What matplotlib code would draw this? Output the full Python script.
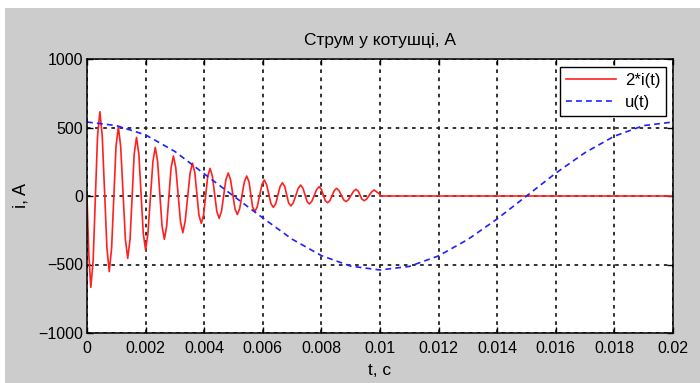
# Струм у котушці: 2*i(t) і напруга u(t)

import matplotlib.pyplot as plt
from matplotlib.patches import Rectangle

import numpy as np

# 2*i(t): загасаючі коливання до 0.01 с, далі струм дорівнює нулю
t_i = [0, 0.00006, 0.00013, 0.00021,
       0.00036, 0.00044, 0.00052,
       0.00068, 0.00076, 0.00084,
       0.00099, 0.00107, 0.00115,
       0.00131, 0.00139, 0.00147,
       0.00161, 0.00169, 0.00177,
       0.00192, 0.00200, 0.00208,
       0.00225, 0.00233, 0.00241,
       0.00256, 0.00264, 0.00272,
       0.00287, 0.00295, 0.00303,
       0.00319, 0.00327, 0.00335,
       0.00352, 0.00360, 0.00368,
       0.00382, 0.00390, 0.00398,
       0.00412, 0.00420, 0.00428,
       0.00443, 0.00451, 0.00459,
       0.00474, 0.00482, 0.00490,
       0.00505, 0.00513, 0.00521,
       0.00537, 0.00545, 0.00553,
       0.00565, 0.00573, 0.00581,
       0.00597, 0.00605, 0.00613,
       0.00628, 0.00636, 0.00644,
       0.00659, 0.00667, 0.00675,
       0.00688, 0.00696, 0.00704,
       0.00721, 0.00729, 0.00737,
       0.00751, 0.00759, 0.00767,
       0.00784, 0.00792, 0.00800,
       0.00813, 0.00821, 0.00829,
       0.00844, 0.00852, 0.00860,
       0.00876, 0.00884, 0.00892,
       0.00910, 0.00918, 0.00926,
       0.00938, 0.00946, 0.00954,
       0.00972, 0.00980, 0.00988,
       0.00998, 0.01, 0.02]
i2 = [0, -420, -667, -470,
      440, 615, 440,
      -380, -552, -380,
      360, 506, 360,
      -315, -455, -315,
      305, 428, 305,
      -272, -394, -272,
      252, 355, 252,
      -218, -316, -218,
      207, 292, 207,
      -185, -268, -185,
      170, 240, 170,
      -138, -200, -138,
      143, 202, 143,
      -112, -163, -112,
      119, 168, 119,
      -93, -135, -93,
      103, 146, 103,
      -79, -114, -79,
      83, 117, 83,
      -57, -83, -57,
      69, 97, 69,
      -50, -73, -50,
      57, 80, 57,
      -40, -58, -40,
      48, 68, 48,
      -34, -49, -34,
      40, 56, 40,
      -28, -41, -28,
      35, 49, 35,
      -23, -34, -23,
      31, 44, 31,
      15, 0, 0]

# u(t)
t_u = [0, 0.001, 0.002, 0.003, 0.004, 0.005, 0.006, 0.007, 0.008, 0.009, 0.010,
       0.011, 0.012, 0.013, 0.014, 0.015, 0.016, 0.017, 0.018, 0.019, 0.020]
u = [540, 514, 446, 325, 162, 0, -160, -315, -435, -512, -540,
     -514, -437, -317, -167, 0, 167, 317, 437, 514, 540]

x_ticks = [0, 0.002, 0.004, 0.006, 0.008, 0.01, 0.012, 0.014, 0.016, 0.018, 0.02]
x_labels = ['0', '0.002', '0.004', '0.006', '0.008', '0.01', '0.012', '0.014', '0.016', '0.018', '0.02']
y_ticks = [-1000, -500, 0, 500, 1000]

plt.rcParams['font.family'] = ['Liberation Sans', 'DejaVu Sans']

fig = plt.figure( figsize = ( 7 , 3.83 ) , dpi = 100 , facecolor = 'white' )

# сірий фон вікна
fig.patches.append( Rectangle( ( 5 / 700 , 0 ) , 1 , 1 - 8 / 383 , transform = fig.transFigure ,
                               facecolor = '#cccccc' , edgecolor = 'none' , zorder = -1 ) )

ax = fig.add_axes( [ 87 / 700 , 1 - 333 / 383 , 586 / 700 , 274 / 383 ] )

ax.plot( t_i , i2 , color = '#ff2020' , linewidth = 1.2 , label = '2*i(t)' )

ax.plot( t_u , u , color = '#2020ff' , linewidth = 1.2 , linestyle = ( 0 , ( 3.5 , 2.5 ) ) , label = 'u(t)' )

ax.set_xlim( 0 , 0.02 )
ax.set_ylim( -1000 , 1000 )

ax.set_xticks( x_ticks )
ax.set_xticklabels( x_labels )
ax.set_yticks( y_ticks )

ax.tick_params( direction = 'in' , top = True , right = True , length = 4 , width = 1 , labelsize = 11.5 )
ax.tick_params( axis = 'x' , pad = 6 )
ax.tick_params( axis = 'y' , pad = 3 )

ax.grid( True , color = '#222222' , linestyle = ( 0 , ( 2 , 2.5 ) ) , linewidth = 1.3 )

for s in ax.spines.values( ) :
    s.set_linewidth( 1.1 )

ax.set_title( 'Струм у котушці, А' , fontsize = 12.5 , pad = 10 )
ax.set_xlabel( 't, c' , fontsize = 12.5 , labelpad = 5 )
ax.set_ylabel( 'i, A' , fontsize = 13 , labelpad = 6 )

leg = ax.legend( loc = 'upper right' , bbox_to_anchor = ( 0.988 , 0.971 ) , borderaxespad = 0 ,
                 fancybox = False , framealpha = 1 , edgecolor = 'black' , fontsize = 12 ,
                 handlelength = 3.0 , handletextpad = 0.5 , borderpad = 0.35 , labelspacing = 0.45 )
leg.get_frame( ).set_linewidth( 1 )

fig.savefig( 'out.png' , dpi = 100 , facecolor = fig.get_facecolor( ) )
